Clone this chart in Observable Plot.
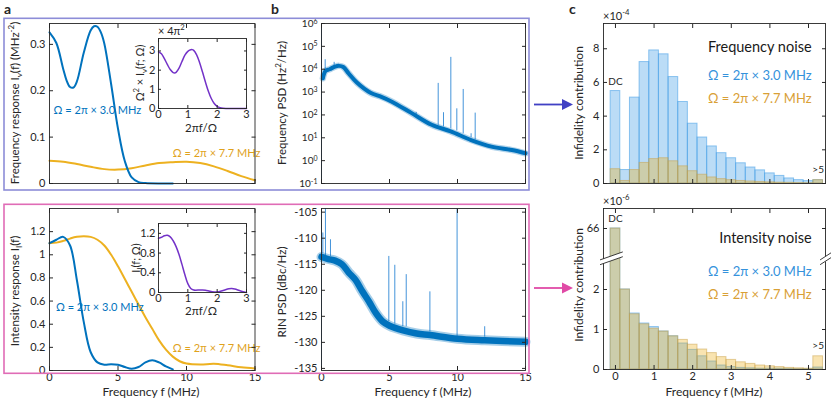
<!DOCTYPE html>
<html>
<head>
<meta charset="utf-8">
<script src="https://cdn.jsdelivr.net/npm/d3@7"></script>
<script src="https://cdn.jsdelivr.net/npm/@observablehq/plot@0.6"></script>
<style>
  body { margin: 0; background: #fff; }
  #fig { position: relative; width: 831px; height: 400px; overflow: hidden; background: #fff; }
</style>
</head>
<body>
<div id="fig"></div>
<script>
// ---------------- DATA ----------------
// Panel a (top): frequency response I_nu(f) (MHz^-2)
const aTopFreqBlue = [0, 0.5, 1, 1.25, 1.5, 1.75, 2, 2.5, 3, 3.25, 3.5, 3.75, 4, 4.5, 5, 5.5, 6, 6.5, 7, 8, 9];
const aTopRespBlue = [0.326, 0.303, 0.247, 0.222, 0.208, 0.207, 0.220, 0.282, 0.330, 0.339, 0.338, 0.326, 0.302, 0.214, 0.118, 0.048, 0.013, 0.003, 0.001, 0, 0];
const aTopFreqYel = [0, 1, 2, 3, 4, 5, 6, 7, 8, 9, 10, 11, 12, 13, 14, 15];
const aTopRespYel = [0.049, 0.047, 0.042, 0.036, 0.031, 0.030, 0.033, 0.039, 0.044, 0.046, 0.047, 0.044, 0.037, 0.027, 0.016, 0.007];
// inset: Omega^2 x I_nu (units of 4 pi^2) vs 2 pi f / Omega
const aTopInsetX = [0, 0.1, 0.2, 0.3, 0.4, 0.5, 0.55, 0.6, 0.7, 0.8, 0.9, 1.0, 1.1, 1.15, 1.2, 1.3, 1.4, 1.5, 1.6, 1.7, 1.8, 1.9, 2.0, 2.1, 2.2, 2.3, 2.5, 3.0];
const aTopInsetY = [2.95, 2.85, 2.6, 2.3, 2.03, 1.87, 1.85, 1.88, 2.1, 2.45, 2.78, 2.98, 3.06, 3.07, 3.03, 2.8, 2.4, 1.9, 1.38, 0.9, 0.52, 0.26, 0.11, 0.04, 0.01, 0, 0, 0];

// Panel a (bottom): intensity response I_I(f)
const aBotFreqBlue = [0, 0.5, 1, 1.5, 2, 2.5, 3, 3.5, 4, 4.5, 5, 5.5, 6, 6.5, 7, 7.5, 8, 8.5, 9];
const aBotRespBlue = [1.10, 1.13, 1.155, 1.08, 0.78, 0.42, 0.16, 0.07, 0.05, 0.055, 0.05, 0.03, 0.015, 0.03, 0.07, 0.088, 0.07, 0.035, 0.01];
const aBotFreqYel = [0, 0.5, 1, 1.5, 2, 2.5, 3, 3.5, 4, 4.5, 5, 5.5, 6, 6.5, 7, 7.5, 8, 8.5, 9, 9.5, 10, 11, 12, 13, 14, 15];
const aBotRespYel = [1.10, 1.105, 1.12, 1.14, 1.155, 1.16, 1.155, 1.13, 1.08, 1.0, 0.9, 0.79, 0.68, 0.57, 0.46, 0.36, 0.26, 0.18, 0.12, 0.08, 0.06, 0.052, 0.058, 0.045, 0.028, 0.018];
const aBotInsetX = [0, 0.1, 0.2, 0.3, 0.4, 0.5, 0.6, 0.7, 0.8, 0.9, 1.0, 1.1, 1.2, 1.4, 1.5, 1.6, 1.8, 2.0, 2.2, 2.4, 2.5, 2.6, 2.8, 3.0];
const aBotInsetY = [1.10, 1.12, 1.15, 1.16, 1.13, 1.05, 0.93, 0.77, 0.57, 0.36, 0.18, 0.08, 0.05, 0.05, 0.052, 0.045, 0.02, 0.01, 0.04, 0.075, 0.08, 0.07, 0.03, 0];

// Panel b (top): frequency PSD (Hz^2/Hz)
const bTopFreq = [0.1, 0.3, 0.6, 1.0, 1.3, 1.6, 2.0, 2.6, 3.6, 4.4, 5.1, 6.6, 8.1, 9.5, 11, 12.5, 14, 15];
const bTopPsd  = [4000, 8500, 10000, 13000, 14000, 12500, 6500, 2600, 930, 620, 400, 123, 37, 19, 8, 4.1, 2.9, 2.1];
const bTopSpikeFreq = [0, 0.27, 0.93, 6.96, 8.58, 8.97, 9.51, 9.95, 10.42, 11.0, 11.3];
const bTopSpikeTop  = [8e5, 26000, 20000, 130, 2400, 125, 33000, 185, 1300, 15, 120];
const bTopSpikeBase = [0.1, 8000, 12000, 100, 35, 30, 25, 20, 15, 10, 8];

// Panel b (bottom): RIN PSD (dBc/Hz)
const bBotFreq = [0, 0.5, 1, 1.5, 2, 2.5, 3, 3.5, 4, 4.5, 5, 6, 7, 8, 10, 12, 15];
const bBotRin  = [-113.6, -114, -114.3, -115, -116.6, -118, -120.2, -122.2, -124.4, -126, -126.8, -127.7, -128.3, -128.6, -129.3, -129.6, -129.9];
const bBotSpikeFreq = [0, 0.1, 0.29, 0.66, 3.9, 4.95, 5.39, 5.98, 6.23, 7.97, 9.97, 12.0];
const bBotSpikeTop  = [-104, -109, -104, -110.3, -123.5, -113.5, -115.2, -122.2, -117, -120.3, -104, -127];
const bBotSpikeBase = [-136, -113, -113.5, -113.5, -124, -126, -126.5, -127, -127, -128, -129, -129];

// Panel c: infidelity contribution per 0.25 MHz bin (first = DC, last = >5 MHz)
const cBins = [0, 0.25, 0.5, 0.75, 1, 1.25, 1.5, 1.75, 2, 2.25, 2.5, 2.75, 3, 3.25, 3.5, 3.75, 4, 4.25, 4.5, 4.75, 5, 5.25];
const cBinWidth = 0.25;
const cFreqBlue = [5.49, 0.8, 5.1, 7.21, 7.9, 7.67, 6.32, 4.84, 3.55, 2.73, 2.2, 1.8, 1.5, 1.2, 0.95, 0.78, 0.6, 0.45, 0.3, 0.2, 0.14, 0.2];   // x1e-4
const cFreqTan  = [0.85, 0.15, 0.8, 1.22, 1.45, 1.5, 1.32, 1.02, 0.73, 0.52, 0.36, 0.26, 0.2, 0.15, 0.12, 0.09, 0.07, 0.05, 0.04, 0.03, 0.02, 0.2]; // x1e-4
const cIntBlue  = [66, 2.0, 1.4, 1.15, 1.06, 0.95, 0.83, 0.65, 0.49, 0.33, 0.2, 0.1, 0.06, 0.04, 0.03, 0.02, 0.02, 0.02, 0.015, 0.01, 0.01, 0.05]; // x1e-6
const cIntTan   = [66, 2.0, 1.38, 1.13, 1.02, 0.95, 0.83, 0.74, 0.62, 0.5, 0.41, 0.31, 0.24, 0.18, 0.14, 0.1, 0.08, 0.06, 0.04, 0.03, 0.02, 0.33];  // x1e-6
const cIntTicks = [0, 1, 2, 66];

const labBlue = "Ω = 2π × 3.0 MHz";
const labYel  = "Ω = 2π × 7.7 MHz";

// ---------------- STYLE ----------------
const FONT = "Lato, 'Open Sans', sans-serif";
const INK = "#262626";
const BLUE = "#0072BD", YEL = "#EDB120", PURP = "#7332C8";
const BAR_BLUE = "#4DA3E8", BAR_TAN = "#EDB120";
const fig = document.getElementById("fig");

// broken axis for panel c (bottom)
const BREAK_AT = 2.8, UPPER_POS = 3.525;
const dispInt = v => v <= BREAK_AT ? v : UPPER_POS + (v - 66) * 0.05;

function boxAxes(o) {
  const ts = o.tick ?? 4;
  const blank = () => "";
  return [
    Plot.axisX(o.xTicks, {anchor: "bottom", tickSize: -ts, tickPadding: ts + (o.xPad ?? 3), tickFormat: o.xFmt ?? blank, label: null, fontSize: o.fs ?? 11, stroke: INK}),
    Plot.axisX(o.xTicks, {anchor: "top", tickSize: -ts, tickFormat: blank, label: null, stroke: INK}),
    Plot.axisY(o.yTicks, {anchor: "left", tickSize: -ts, tickPadding: ts + (o.yPad ?? 4), tickFormat: o.yFmt ?? blank, label: null, fontSize: o.fs ?? 11, stroke: INK}),
    Plot.axisY(o.yTicks, {anchor: "right", tickSize: -ts, tickFormat: blank, label: null, stroke: INK}),
    Plot.frame({stroke: INK, strokeWidth: 0.9})
  ];
}

function makePlot({left, top, w, h, x, y, marks}) {
  const ml = 45, mr = 22, mt = 15, mb = 30;
  const svg = Plot.plot({
    width: w + ml + mr, height: h + mt + mb,
    marginLeft: ml, marginRight: mr, marginTop: mt, marginBottom: mb,
    x, y,
    style: {fontFamily: FONT, fontSize: "11px", color: INK, background: "transparent", overflow: "visible"},
    marks
  });
  svg.style.position = "absolute";
  svg.style.left = (left - ml) + "px";
  svg.style.top = (top - mt) + "px";
  svg.style.maxWidth = "none";
  fig.appendChild(svg);
  return svg;
}

const numFmt = d => String(+(+d).toFixed(1));

// ---------- Panel a top ----------
makePlot({
  left: 48.5, top: 23, w: 205.5, h: 160,
  x: {domain: [0, 15]}, y: {domain: [0, 0.345]},
  marks: [
    Plot.line(aTopFreqYel, {x: aTopFreqYel, y: aTopRespYel, stroke: YEL, strokeWidth: 2, curve: "catmull-rom"}),
    Plot.line(aTopFreqBlue, {x: aTopFreqBlue, y: aTopRespBlue, stroke: BLUE, strokeWidth: 2, curve: "catmull-rom"}),
    Plot.text([labBlue], {x: 0.3, y: 0.157, textAnchor: "start", fill: BLUE, fontSize: 11}),
    Plot.text([labYel], {x: 9.0, y: 0.065, textAnchor: "start", fill: "#E0A21C", fontSize: 11}),
    ...boxAxes({xTicks: [0, 5, 10, 15], yTicks: [0, 0.1, 0.2, 0.3], yFmt: numFmt})
  ]
});

// ---------- Panel a bottom ----------
makePlot({
  left: 48.5, top: 208, w: 205.5, h: 162,
  x: {domain: [0, 15]}, y: {domain: [0, 1.4]},
  marks: [
    Plot.line(aBotFreqYel, {x: aBotFreqYel, y: aBotRespYel, stroke: YEL, strokeWidth: 2, curve: "catmull-rom"}),
    Plot.line(aBotFreqBlue, {x: aBotFreqBlue, y: aBotRespBlue, stroke: BLUE, strokeWidth: 2, curve: "catmull-rom"}),
    Plot.text([labBlue], {x: 0.47, y: 0.547, textAnchor: "start", fill: BLUE, fontSize: 11}),
    Plot.text([labYel], {x: 9.0, y: 0.19, textAnchor: "start", fill: "#E0A21C", fontSize: 11}),
    ...boxAxes({xTicks: [0, 5, 10, 15], xFmt: d => String(d), yTicks: [0, 0.2, 0.4, 0.6, 0.8, 1, 1.2], yFmt: numFmt})
  ]
});

// ---------- Insets ----------
makePlot({
  left: 157.5, top: 38, w: 88, h: 70,
  x: {domain: [0, 3]}, y: {domain: [0, 3.65]},
  marks: [
    Plot.frame({fill: "white"}),
    Plot.line(aTopInsetX, {x: aTopInsetX, y: aTopInsetY, stroke: PURP, strokeWidth: 1.5, curve: "catmull-rom"}),
    ...boxAxes({tick: 3, xTicks: [0, 1, 2, 3], xFmt: d => String(d), xPad: 2, yTicks: [0, 1, 2, 3], yFmt: d => String(d), yPad: 3})
  ]
});
makePlot({
  left: 157.5, top: 223, w: 88, h: 69,
  x: {domain: [0, 3]}, y: {domain: [0, 1.4]},
  marks: [
    Plot.frame({fill: "white"}),
    Plot.line(aBotInsetX, {x: aBotInsetX, y: aBotInsetY, stroke: PURP, strokeWidth: 1.5, curve: "catmull-rom"}),
    ...boxAxes({tick: 3, xTicks: [0, 1, 2, 3], xFmt: d => String(d), xPad: 2, yTicks: [0, 0.4, 0.8, 1.2], yFmt: numFmt, yPad: 3})
  ]
});

// ---------- Panel b top ----------
const b1 = makePlot({
  left: 321, top: 23, w: 204, h: 160,
  x: {domain: [0, 15]}, y: {type: "log", domain: [0.1, 1e6]},
  marks: [
    Plot.ruleX(bTopSpikeFreq, {x: bTopSpikeFreq, y1: bTopSpikeBase, y2: bTopSpikeTop, stroke: "#4494da", strokeWidth: 1, clip: true}),
    Plot.line(bTopFreq, {x: bTopFreq, y: bTopPsd, stroke: BLUE, strokeWidth: 6.5, strokeOpacity: 0.3, curve: "catmull-rom"}),
    Plot.line(bTopFreq, {x: bTopFreq, y: bTopPsd, stroke: BLUE, strokeWidth: 4, curve: "catmull-rom"}),
    ...boxAxes({xTicks: [0, 5, 10, 15], yTicks: [0.1, 1, 10, 100, 1e3, 1e4, 1e5, 1e6],
      yFmt: d => "10^" + Math.round(Math.log10(d)), fs: 10})
  ]
});
d3.select(b1).selectAll('[aria-label="y-axis tick label"] text').each(function () {
  const m = this.textContent.match(/^10\^(-?\d+)$/);
  if (!m) return;
  const t = d3.select(this);
  t.text("10");
  t.append("tspan").attr("dy", "-0.45em").attr("font-size", "7px").text(m[1]);
});

// ---------- Panel b bottom ----------
makePlot({
  left: 321, top: 208, w: 204, h: 162,
  x: {domain: [0, 15]}, y: {domain: [-135.4, -104.3]},
  marks: [
    Plot.ruleX(bBotSpikeFreq, {x: bBotSpikeFreq, y1: bBotSpikeBase, y2: bBotSpikeTop, stroke: "#4494da", strokeWidth: 1, clip: true}),
    Plot.line(bBotFreq, {x: bBotFreq, y: bBotRin, stroke: BLUE, strokeWidth: 10, strokeOpacity: 0.35, curve: "catmull-rom"}),
    Plot.line(bBotFreq, {x: bBotFreq, y: bBotRin, stroke: BLUE, strokeWidth: 6.5, curve: "catmull-rom"}),
    ...boxAxes({xTicks: [0, 5, 10, 15], xFmt: d => String(d), yTicks: [-135, -130, -125, -120, -115, -110, -105], yFmt: d => String(d)})
  ]
});

// ---------- Panel c top ----------
const cX1 = cBins.map(b => b - cBinWidth / 2);
const cX2 = cBins.map(b => b + cBinWidth / 2);
makePlot({
  left: 603, top: 23, w: 222, h: 160,
  x: {domain: [-0.31, 5.44]}, y: {domain: [0, 9.5]},
  marks: [
    Plot.rectY(cBins, {x1: cX1, x2: cX2, y1: 0, y2: cFreqBlue, fill: BAR_BLUE, fillOpacity: 0.38, stroke: BAR_BLUE, strokeOpacity: 0.6, strokeWidth: 1}),
    Plot.rectY(cBins, {x1: cX1, x2: cX2, y1: 0, y2: cFreqTan, fill: BAR_TAN, fillOpacity: 0.35, stroke: "#c9a24a", strokeOpacity: 0.5, strokeWidth: 1}),
    Plot.text(["Frequency noise"], {x: 5.08, y: 8.08, textAnchor: "end", fontSize: 14.5, fill: "#1a1a1a"}),
    Plot.text([labBlue], {x: 5.08, y: 6.41, textAnchor: "end", fontSize: 13, fill: "#3592DC"}),
    Plot.text([labYel], {x: 5.08, y: 5.05, textAnchor: "end", fontSize: 13, fill: "#D9A036"}),
    Plot.text(["DC"], {x: cBins[0], y: cFreqBlue[0], dy: -9, fontSize: 10, fill: INK}),
    Plot.text([">5"], {x: cBins[cBins.length - 1], y: cFreqBlue[cBins.length - 1], dy: -10, fontSize: 10, fill: INK}),
    ...boxAxes({xTicks: [0, 1, 2, 3, 4, 5], yTicks: [0, 2, 4, 6, 8], yFmt: d => String(d)})
  ]
});

// ---------- Panel c bottom (broken axis) ----------
const cIntBlueDisp = cIntBlue.map(dispInt);
const cIntTanDisp = cIntTan.map(dispInt);
const brk = (x1, x2, off, stroke, sw) => Plot.link([0], {x1, x2, y1: BREAK_AT - 0.12 + off, y2: BREAK_AT + 0.08 + off, stroke, strokeWidth: sw});
makePlot({
  left: 603, top: 208, w: 222, h: 161,
  x: {domain: [-0.31, 5.44]}, y: {domain: [0, 4.025]},
  marks: [
    Plot.rectY(cBins, {x1: cX1, x2: cX2, y1: 0, y2: cIntBlueDisp, fill: BAR_BLUE, fillOpacity: 0.38, stroke: BAR_BLUE, strokeOpacity: 0.6, strokeWidth: 1}),
    Plot.rectY(cBins, {x1: cX1, x2: cX2, y1: 0, y2: cIntTanDisp, fill: BAR_TAN, fillOpacity: 0.35, stroke: "#c9a24a", strokeOpacity: 0.5, strokeWidth: 1}),
    Plot.text(["Intensity noise"], {x: 5.08, y: 3.28, textAnchor: "end", fontSize: 14.5, fill: "#1a1a1a"}),
    Plot.text([labBlue], {x: 5.08, y: 2.45, textAnchor: "end", fontSize: 13, fill: "#3592DC"}),
    Plot.text([labYel], {x: 5.08, y: 1.875, textAnchor: "end", fontSize: 13, fill: "#D9A036"}),
    Plot.text(["DC"], {x: cBins[0], y: cIntBlueDisp[0], dy: -10, fontSize: 10, fill: INK}),
    Plot.text([">5"], {x: cBins[cBins.length - 1], y: cIntTanDisp[cBins.length - 1], dy: -11, fontSize: 10, fill: INK}),
    ...boxAxes({xTicks: [0, 1, 2, 3, 4, 5], xFmt: d => String(d), yTicks: cIntTicks.map(dispInt), yFmt: d => String(cIntTicks[cIntTicks.map(dispInt).indexOf(d)])}),
    brk(-0.40, 0.19, 0, "white", 4.5),
    brk(-0.40, 0.19, 0.06, INK, 0.9),
    brk(-0.40, 0.19, -0.06, INK, 0.9),
    brk(5.30, 5.62, 0, "white", 4.5),
    brk(5.30, 5.62, 0.06, INK, 0.9),
    brk(5.30, 5.62, -0.06, INK, 0.9)
  ]
});

// ---------------- OVERLAY: boxes, arrows, titles ----------------
const ov = d3.select(fig).append("svg")
  .attr("width", 831).attr("height", 400)
  .style("position", "absolute").style("left", "0px").style("top", "0px")
  .style("pointer-events", "none").style("overflow", "visible")
  .style("font-family", FONT);

ov.append("rect").attr("x", 4).attr("y", 18.3).attr("width", 525).attr("height", 171.7)
  .attr("fill", "none").attr("stroke", "#8d8dd8").attr("stroke-width", 1.6);
ov.append("rect").attr("x", 4).attr("y", 204.3).attr("width", 525).attr("height", 169)
  .attr("fill", "none").attr("stroke", "#e06cb6").attr("stroke-width", 1.6);

function arrow(y, color) {
  ov.append("line").attr("x1", 534).attr("x2", 564).attr("y1", y).attr("y2", y)
    .attr("stroke", color).attr("stroke-width", 1.8);
  ov.append("path").attr("d", `M562,${y - 5.5} L573,${y} L562,${y + 5.5} Z`).attr("fill", color);
}
arrow(104.5, "#4040c4");
arrow(288, "#e04aa6");

function rich(parts, {x, y, size = 12, anchor = "middle", rotate = 0, fill = INK, weight = null}) {
  const t = ov.append("text").attr("transform", `translate(${x},${y}) rotate(${rotate})`)
    .attr("text-anchor", anchor).attr("font-size", size).attr("fill", fill);
  if (weight) t.attr("font-weight", weight);
  let shift = 0;
  for (const p of parts) {
    const s = typeof p === "string" ? {t: p} : p;
    const target = s.sub ? size * 0.3 : s.sup ? -size * 0.42 : 0;
    const ts = t.append("tspan").attr("dy", target - shift).text(s.t);
    if (s.sub || s.sup) ts.attr("font-size", size * 0.7);
    shift = target;
  }
  return t;
}

rich(["a"], {x: 4, y: 14, size: 14, anchor: "start", weight: "bold"});
rich(["b"], {x: 271, y: 14, size: 14, anchor: "start", weight: "bold"});
rich(["c"], {x: 569, y: 14, size: 14, anchor: "start", weight: "bold"});

rich(["Frequency response I", {t: "ν", sub: true}, "(f) (MHz", {t: "-2", sup: true}, ")"], {x: 19, y: 103, size: 11.5, rotate: -90});
rich(["Intensity response I", {t: "I", sub: true}, "(f)"], {x: 19, y: 291, size: 11.5, rotate: -90});
rich(["Ω", {t: "2", sup: true}, " × I", {t: "ν", sub: true}, "(f; Ω)"], {x: 143.5, y: 73, size: 11, rotate: -90});
rich(["I", {t: "I", sub: true}, "(f; Ω)"], {x: 140, y: 258, size: 11, rotate: -90});
rich(["× 4π", {t: "2", sup: true}], {x: 158, y: 35, size: 11, anchor: "start"});
rich(["2πf/Ω"], {x: 201, y: 132, size: 11.5});
rich(["2πf/Ω"], {x: 201, y: 315, size: 11.5});

rich(["Frequency PSD (Hz", {t: "2", sup: true}, "/Hz)"], {x: 286, y: 103, size: 11.5, rotate: -90});
rich(["RIN PSD (dBc/Hz)"], {x: 286, y: 292, size: 11.5, rotate: -90});

rich(["Infidelity contribution"], {x: 583, y: 103, size: 12, rotate: -90});
rich(["Infidelity contribution"], {x: 583, y: 285, size: 12, rotate: -90});
rich(["×10", {t: "-4", sup: true}], {x: 603, y: 20, size: 11, anchor: "start"});
rich(["×10", {t: "-6", sup: true}], {x: 603, y: 205, size: 11, anchor: "start"});

rich(["Frequency f (MHz)"], {x: 151, y: 396, size: 12});
rich(["Frequency f (MHz)"], {x: 423, y: 396, size: 12});
rich(["Frequency f (MHz)"], {x: 714, y: 396, size: 12});
</script>
</body>
</html>
